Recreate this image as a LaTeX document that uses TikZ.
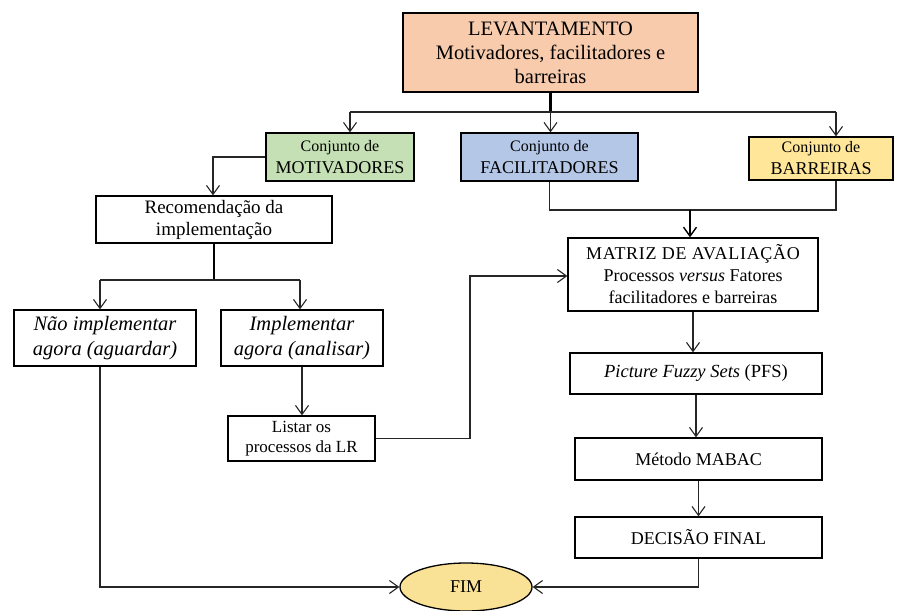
\documentclass[tikz,border=0pt]{standalone}
\usepackage{fontspec}
\setmainfont{Liberation Serif}
\newfontfamily\tnr{Liberation Serif}
\usetikzlibrary{arrows.meta,shapes.geometric}

\definecolor{peach}{HTML}{F8CBAD}
\definecolor{mgreen}{HTML}{C5E0B4}
\definecolor{mblue}{HTML}{B4C7E7}
\definecolor{myellow}{HTML}{FFE699}
\definecolor{fimyellow}{HTML}{F9E195}

\newcommand{\fsz}[2]{\fontsize{#1}{#2}\tnr}

\tikzset{
  box/.style={draw=black, line width=1.3pt, align=center, inner sep=0pt,
    font=\fsz{18}{22}},
  conn/.style={draw=black!85, line width=1.1pt},
  thickconn/.style={draw=black, line width=2.2pt},
  arr/.style={conn, -{Straight Barb[length=9pt,width=13pt,line width=1.1pt]}},
  thickarr/.style={thickconn, -{Straight Barb[length=9pt,width=13pt,line width=1.4pt]}},
}

\begin{document}
\begin{tikzpicture}[x=1pt,y=-1pt]
\useasboundingbox (0,0) rectangle (909,610);

% boxes
\node[box, fill=peach, minimum width=295pt, minimum height=79pt,
      font=\fsz{20.5}{24}] (lev) at (550.5,52.5)
  {LEVANTAMENTO\\Motivadores, facilitadores e\\barreiras};
\node[box, fill=mgreen, minimum width=148pt, minimum height=48pt] (mot) at (340,157)
  {{\fsz{16}{18}Conjunto de}\\MOTIVADORES};
\node[box, fill=mblue, minimum width=177pt, minimum height=48pt] (fac) at (549.5,157)
  {{\fsz{16}{18}Conjunto de}\\FACILITADORES};
\node[box, fill=myellow, minimum width=144pt, minimum height=43pt] (bar) at (821,158.5)
  {{\fsz{16}{18}Conjunto de}\\BARREIRAS};

\node[box, minimum width=236pt, minimum height=47pt, font=\fsz{19}{22}] (rec) at (214,219.5)
  {Recomendação da\\implementação};
\node[box, minimum width=182pt, minimum height=56pt,
      font=\fsz{20.5}{25}\itshape] (nao) at (105,338)
  {Não implementar\\agora (aguardar)};
\node[box, minimum width=162pt, minimum height=56pt,
      font=\fsz{20.5}{25}\itshape] (imp) at (302,338)
  {Implementar\\agora (analisar)};
\node[box, minimum width=147pt, minimum height=45pt,
      font=\fsz{17}{20}] (lis) at (301.5,438.5)
  {Listar os\\processos da LR};

\node[box, minimum width=250pt, minimum height=73pt] (mat) at (693,274.5)
  {{\addfontfeature{LetterSpace=4}MATRIZ DE AVALIAÇÃO}\\Processos \textit{versus} Fatores\\facilitadores e barreiras};
\node[box, minimum width=252pt, minimum height=41pt, font=\fsz{18.5}{22}] (pfs) at (696,373.5)
  {\textit{Picture Fuzzy Sets} (PFS)};
\node[box, minimum width=247pt, minimum height=42pt] (mab) at (698.5,459)
  {Método MABAC};
\node[box, minimum width=247pt, minimum height=41pt] (dec) at (698.5,537.5)
  {DECISÃO FINAL};

\node[draw=black, line width=1.3pt, fill=fimyellow, ellipse, inner sep=0pt,
      minimum width=132pt, minimum height=48pt,
      font=\fsz{18}{22}] (fim) at (466,587) {FIM};

% junction points of the connectors
\coordinate (busL) at (350,112);
\coordinate (busR) at (836,112);
\coordinate (mrg) at (690,210);
\coordinate (mk) at (213,157);
\coordinate (spL) at (100,280);
\coordinate (spR) at (300,280);
\coordinate (lk) at (470,276);

% survey to the three sets
\draw[thickconn] (lev.south) -- (lev.south |- busL);
\draw[conn] (busL) -- (busR);
\draw[arr] (busL) -- (busL |- mot.north);
\draw[arr] (lev.south |- busL) -- (lev.south |- fac.north);
\draw[arr] (busR) -- (busR |- bar.north);

% facilitators and barriers into the matrix
\draw[conn] (fac.south) -- (fac.south |- mrg) -- (mrg);
\draw[conn] (busR |- bar.south) -- (busR |- mrg) -- (mrg);
\draw[thickarr] (mrg) -- (mrg |- mat.north);

% motivators branch
\draw[arr] (mot.west) -- (mk) -- (mk |- rec.north);
\draw[thickconn] (rec.south) -- (rec.south |- spL);
\draw[conn] (spL) -- (spR);
\draw[arr] (spL) -- (spL |- nao.north);
\draw[arr] (spR) -- (spR |- imp.north);
\draw[arr] (imp.south) -- (imp.south |- lis.north);
\draw[arr] (lis.east) -- (lis.east -| lk) -- (lk) -- (lk -| mat.west);

% evaluation chain
\draw[arr] (mat.south) -- (mat.south |- pfs.north);
\draw[arr] (pfs.south) -- (pfs.south |- mab.north);
\draw[arr] (mab.south) -- (mab.south |- dec.north);

% endings
\draw[arr] (dec.south) -- (dec.south |- fim.east) -- (fim.east);
\draw[arr] (nao.south -| spL) -- (spL |- fim.west) -- (fim.west);
\end{tikzpicture}
\end{document}
